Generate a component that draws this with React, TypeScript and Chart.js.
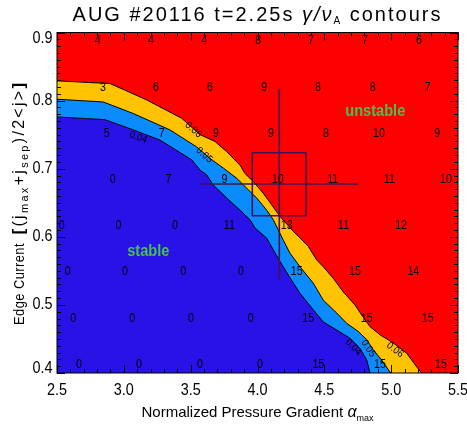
import { useEffect, useRef } from 'react';
import { Chart, registerables } from 'chart.js';

Chart.register(...registerables);

type Pt = [number, number];

// Axis ranges: normalized pressure gradient (x) and edge current (y)
const ALPHA_RANGE: Pt = [2.5, 5.5];
const J_RANGE: Pt = [0.4, 0.9];
const ALPHA_TICKS = [2.5, 3.0, 3.5, 4.0, 4.5, 5.0, 5.5];
const J_TICKS = [0.4, 0.5, 0.6, 0.7, 0.8, 0.9];

// Top edge of the scan domain
const scanTop: Pt[] = [[2.5, 0.9], [5.5, 0.9]];

// gamma / nu_A = 0.06 contour
const contour006: Pt[] = [
  [2.5, 0.829], [2.897, 0.825], [3.171, 0.801], [3.433, 0.774], [3.57, 0.75],
  [3.682, 0.74], [3.77, 0.725], [3.87, 0.705], [3.906, 0.693], [3.969, 0.681],
  [4.043, 0.664], [4.106, 0.647], [4.168, 0.63], [4.268, 0.608], [4.38, 0.586],
  [4.443, 0.566], [4.492, 0.556], [4.567, 0.539], [4.642, 0.519], [4.729, 0.5],
  [4.78, 0.485], [4.842, 0.468], [4.917, 0.456], [5.016, 0.444], [5.116, 0.429],
  [5.191, 0.409], [5.228, 0.4],
];

// gamma / nu_A = 0.05 contour
const contour005: Pt[] = [
  [2.5, 0.802], [2.846, 0.798], [3.071, 0.781], [3.345, 0.757], [3.545, 0.732],
  [3.645, 0.715], [3.744, 0.701], [3.844, 0.686], [3.931, 0.669], [3.994, 0.657],
  [4.069, 0.639], [4.118, 0.625], [4.156, 0.61], [4.193, 0.595], [4.243, 0.576],
  [4.318, 0.556], [4.417, 0.532], [4.492, 0.507], [4.593, 0.488], [4.667, 0.473],
  [4.754, 0.461], [4.817, 0.449], [4.866, 0.434], [4.929, 0.419], [4.996, 0.4],
];

// gamma / nu_A = 0.04 contour (stability boundary)
const contour004: Pt[] = [
  [2.5, 0.776], [2.859, 0.772], [3.071, 0.757], [3.271, 0.742], [3.508, 0.713],
  [3.57, 0.698], [3.62, 0.691], [3.669, 0.676], [3.77, 0.657], [3.869, 0.639],
  [3.944, 0.625], [3.981, 0.613], [4.069, 0.598], [4.118, 0.581], [4.156, 0.568],
  [4.236, 0.542], [4.318, 0.517], [4.417, 0.493], [4.492, 0.475], [4.593, 0.463],
  [4.692, 0.451], [4.767, 0.436], [4.817, 0.419], [4.842, 0.4],
];

// Experimental operating point with its uncertainty box and error bars
const opAlpha = 4.163;
const opJ = 0.6775;
const boxAlpha: Pt = [3.961, 4.363];
const boxJ: Pt = [0.631, 0.7235];
const barAlpha: Pt = [3.57, 4.754];
const barJ: Pt = [0.5376, 0.8166];

// Growth-rate values printed at the scan points (rows of constant edge current)
const rowJ = [0.889, 0.82, 0.752, 0.684, 0.616, 0.549, 0.48, 0.412];
const rowAlpha: number[][] = [
  [2.805, 3.203, 3.602, 4.006, 4.4, 4.804, 5.208],
  [2.844, 3.241, 3.645, 4.051, 4.453, 4.862, 5.273],
  [2.872, 3.283, 3.69, 4.101, 4.512, 4.909, 5.345],
  [2.917, 3.333, 3.752, 4.151, 4.563, 4.986, 5.41],
  [2.535, 2.959, 3.383, 3.789, 4.218, 4.642, 5.074],
  [2.58, 3.009, 3.445, 3.877, 4.293, 4.729, 5.166],
  [2.622, 3.063, 3.502, 3.949, 4.38, 4.817, 5.273],
  [2.665, 3.113, 3.57, 4.019, 4.455, 4.916, 5.373],
];
const rowValues: number[][] = [
  [4, 4, 4, 8, 7, 7, 6],
  [3, 6, 6, 9, 8, 8, 7],
  [5, 7, 9, 9, 8, 10, 9],
  [0, 7, 9, 10, 11, 11, 10],
  [0, 0, 0, 11, 13, 11, 12],
  [0, 0, 0, 0, 15, 15, 14],
  [0, 0, 0, 0, 15, 15, 15],
  [0, 0, 0, 0, 15, 15, 15],
];

// Contour level labels
const levelLabels = [
  { text: '0.06', alpha: 3.52, j: 0.757, path: contour006 },
  { text: '0.05', alpha: 3.602, j: 0.72, path: contour005 },
  { text: '0.04', alpha: 3.108, j: 0.746, path: contour004 },
  { text: '0.04', alpha: 4.717, j: 0.438, path: contour004 },
  { text: '0.05', alpha: 4.829, j: 0.436, path: contour005 },
  { text: '0.06', alpha: 5.029, j: 0.434, path: contour006 },
];

// Region names
const regionLabels = [
  { text: 'unstable', alpha: 4.881, j: 0.784 },
  { text: 'stable', alpha: 3.183, j: 0.578 },
];

const RED = '#ff0000';
const GOLD = '#ffc300';
const SKY = '#0a8cff';
const DEEP = '#2812e6';
const MARK = '#3e1452';
const GREEN = '#46c050';
const SANS = "'Liberation Sans', Arial, sans-serif";

type Run = { text: string; font: string; dy?: number };

function drawRuns(ctx: CanvasRenderingContext2D, runs: Run[], x: number, y: number, sx = 1, spacing = 0) {
  const c = ctx as any;
  c.letterSpacing = `${spacing}px`;
  const widths = runs.map((r) => {
    ctx.font = r.font;
    return ctx.measureText(r.text).width;
  });
  const total = widths.reduce((a, b) => a + b, 0);
  ctx.save();
  ctx.translate(x, y);
  ctx.scale(sx, 1);
  let cx = -total / 2;
  runs.forEach((r, i) => {
    ctx.font = r.font;
    ctx.fillText(r.text, cx, r.dy || 0);
    cx += widths[i];
  });
  ctx.restore();
  c.letterSpacing = '0px';
}

const toXY = (pts: Pt[]) => pts.map(([x, y]) => ({ x, y }));

const annotations = {
  id: 'contourAnnotations',
  afterDatasetsDraw(chart: any) {
    const { ctx } = chart;
    const xs = chart.scales.x;
    const ys = chart.scales.y;
    ctx.save();
    ctx.fillStyle = '#000';
    ctx.textAlign = 'left';
    ctx.textBaseline = 'middle';
    // scan-point values
    rowJ.forEach((j, r) => {
      rowAlpha[r].forEach((a, c) => {
        drawRuns(ctx, [{ text: String(rowValues[r][c]), font: `13px ${SANS}` }], xs.getPixelForValue(a), ys.getPixelForValue(j), 0.82);
      });
    });
    // contour level labels, oriented along their contour
    levelLabels.forEach((l) => {
      const p = l.path;
      let i = 0;
      while (i < p.length - 2 && p[i + 1][0] < l.alpha) i++;
      const dx = xs.getPixelForValue(p[i + 1][0]) - xs.getPixelForValue(p[i][0]);
      const dy = ys.getPixelForValue(p[i + 1][1]) - ys.getPixelForValue(p[i][1]);
      ctx.save();
      ctx.translate(xs.getPixelForValue(l.alpha), ys.getPixelForValue(l.j));
      ctx.rotate(Math.atan2(dy, dx));
      drawRuns(ctx, [{ text: l.text, font: `10px ${SANS}` }], 0, 0, 0.95);
      ctx.restore();
    });
    ctx.fillStyle = GREEN;
    regionLabels.forEach((l) => {
      drawRuns(ctx, [{ text: l.text, font: `bold 17px ${SANS}` }], xs.getPixelForValue(l.alpha), ys.getPixelForValue(l.j), 0.86);
    });
    ctx.restore();
  },
  afterDraw(chart: any) {
    const { ctx, chartArea: a } = chart;
    const xs = chart.scales.x;
    const ys = chart.scales.y;
    ctx.save();
    ctx.strokeStyle = '#000';
    ctx.fillStyle = '#000';
    ctx.lineWidth = 1;
    ctx.strokeRect(a.left, a.top, a.right - a.left, a.bottom - a.top);
    ctx.beginPath();
    for (let k = 0; k <= 30; k++) {
      const v = ALPHA_RANGE[0] + k * 0.1;
      const px = Math.round(xs.getPixelForValue(v)) + 0.5;
      const len = k % 5 === 0 ? 8 : 4;
      ctx.moveTo(px, a.bottom);
      ctx.lineTo(px, a.bottom - len);
      ctx.moveTo(px, a.top);
      ctx.lineTo(px, a.top + len);
    }
    for (let k = 0; k <= 50; k++) {
      const v = J_RANGE[0] + k * 0.01;
      const py = Math.round(ys.getPixelForValue(v)) + 0.5;
      const len = k % 10 === 0 ? 8 : 4;
      ctx.moveTo(a.left, py);
      ctx.lineTo(a.left + len, py);
      ctx.moveTo(a.right, py);
      ctx.lineTo(a.right - len, py);
    }
    ctx.stroke();

    ctx.textAlign = 'left';
    ctx.textBaseline = 'middle';
    ALPHA_TICKS.forEach((v) => {
      drawRuns(ctx, [{ text: v.toFixed(1), font: `16px ${SANS}` }], xs.getPixelForValue(v), 391, 0.9);
    });
    J_TICKS.forEach((v) => {
      const py = Math.min(Math.max(ys.getPixelForValue(v), a.top + 6.5), a.bottom - 4);
      ctx.font = `16px ${SANS}`;
      const w = ctx.measureText(v.toFixed(1)).width * 0.9;
      drawRuns(ctx, [{ text: v.toFixed(1), font: `16px ${SANS}` }], 52.5 - w / 2, py, 0.9);
    });

    ctx.textBaseline = 'alphabetic';
    // title
    drawRuns(ctx, [
      { text: 'AUG #20116 t=2.25s ', font: `20px ${SANS}` },
      { text: 'γ/ν', font: `italic 20px ${SANS}` },
      { text: 'A', font: `10px ${SANS}`, dy: 3 },
      { text: ' contours', font: `20px ${SANS}` },
    ], (a.left + a.right) / 2, 21, 1, 2);
    // x-axis title
    drawRuns(ctx, [
      { text: 'Normalized Pressure Gradient ', font: `15px ${SANS}` },
      { text: 'α', font: `italic 16px ${SANS}` },
      { text: 'max', font: `9px ${SANS}`, dy: 4 },
    ], (a.left + a.right) / 2, 417, 1);
    // y-axis title
    ctx.save();
    ctx.translate(23.5, 0);
    ctx.rotate(-Math.PI / 2);
    drawRuns(ctx, [{ text: 'Edge Current', font: `15px ${SANS}` }], -284, 0, 0.86, 0.5);
    drawRuns(ctx, [
      { text: '[', font: `bold 17px ${SANS}` },
      { text: '(j', font: `16px ${SANS}` },
      { text: 'max', font: `11px ${SANS}`, dy: 4 },
      { text: '+j', font: `16px ${SANS}` },
      { text: 'sep', font: `11px ${SANS}`, dy: 4 },
      { text: ')/2<j>', font: `16px ${SANS}` },
      { text: ']', font: `bold 17px ${SANS}` },
    ], -157.5, 0, 1, 2.3);
    ctx.restore();
    ctx.restore();
  },
};

export default function App() {
  const canvasRef = useRef<HTMLCanvasElement | null>(null);

  useEffect(() => {
    const canvas = canvasRef.current;
    if (!canvas) return;
    const line = { pointRadius: 0, tension: 0, borderJoinStyle: 'round' as const };
    const chart = new Chart(canvas, {
      type: 'line',
      data: {
        datasets: [
          { ...line, data: toXY(scanTop), fill: 'start', backgroundColor: RED, borderWidth: 0, order: 6 },
          { ...line, data: toXY(contour006), fill: 'start', backgroundColor: GOLD, borderColor: '#000', borderWidth: 1, order: 5 },
          { ...line, data: toXY(contour005), fill: 'start', backgroundColor: SKY, borderColor: '#000', borderWidth: 1, order: 4 },
          { ...line, data: toXY(contour004), fill: 'start', backgroundColor: DEEP, borderColor: '#000', borderWidth: 1, order: 3 },
          {
            ...line,
            data: toXY([[boxAlpha[0], boxJ[1]], [boxAlpha[1], boxJ[1]], [boxAlpha[1], boxJ[0]], [boxAlpha[0], boxJ[0]], [boxAlpha[0], boxJ[1]]]),
            fill: false, borderColor: MARK, borderWidth: 1.6, order: 2,
          },
          { ...line, data: toXY([[barAlpha[0], opJ], [barAlpha[1], opJ]]), fill: false, borderColor: MARK, borderWidth: 1.6, order: 1 },
          { ...line, data: toXY([[opAlpha, barJ[0]], [opAlpha, barJ[1]]]), fill: false, borderColor: MARK, borderWidth: 1.6, order: 1 },
        ],
      },
      options: {
        responsive: false,
        animation: false,
        events: [],
        layout: { padding: { left: 57, top: 32.5, right: 9, bottom: 55 } },
        scales: {
          x: { type: 'linear', min: ALPHA_RANGE[0], max: ALPHA_RANGE[1], display: false },
          y: { type: 'linear', min: J_RANGE[0], max: J_RANGE[1], display: false },
        },
        plugins: { legend: { display: false }, tooltip: { enabled: false } },
      },
      plugins: [annotations],
    });
    return () => chart.destroy();
  }, []);

  return (
    <div style={{ position: 'absolute', left: 0, top: 0, width: 467, height: 428, background: '#fff' }}>
      <canvas ref={canvasRef} width={467} height={428} style={{ display: 'block' }} />
    </div>
  );
}
